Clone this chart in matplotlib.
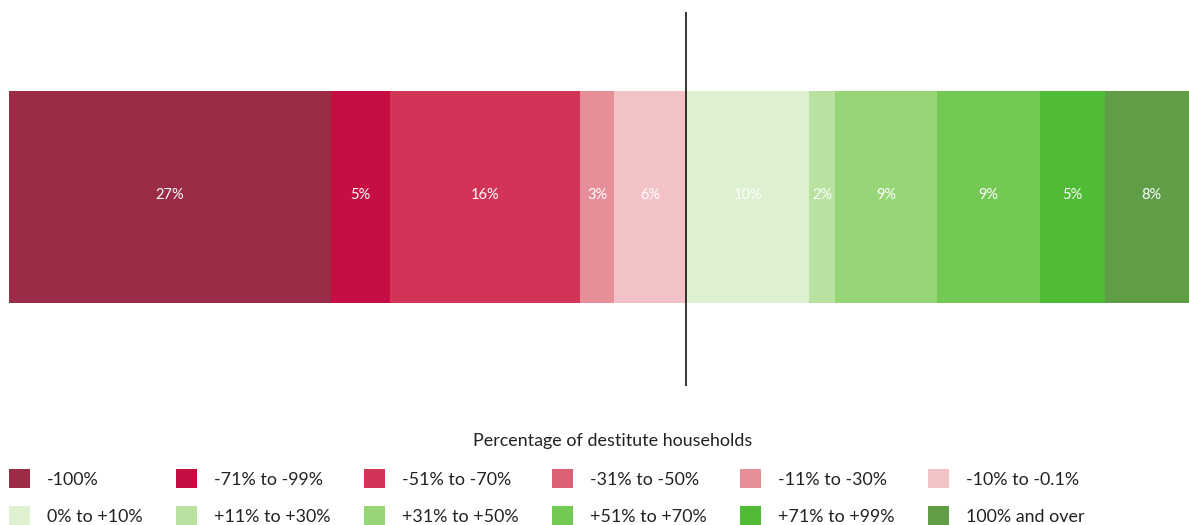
import matplotlib
matplotlib.use("Agg")
import matplotlib.pyplot as plt
from matplotlib.patches import Patch

plt.rcParams['font.family'] = ['Lato', 'DejaVu Sans']

# ---- data ----
neg_labels = ["-100%", "-71% to -99%", "-51% to -70%", "-31% to -50%", "-11% to -30%", "-10% to -0.1%"]
neg_values = [27.06, 4.96, 15.97, 0.0, 2.86, 6.05]
neg_colors = ["#9b2c45", "#c50f43", "#d13457", "#dc6073", "#e78f99", "#f2c2c6"]

pos_labels = ["0% to +10%", "+11% to +30%", "+31% to +50%", "+51% to +70%", "+71% to +99%", "100% and over"]
pos_values = [10.34, 2.18, 8.55, 8.66, 5.46, 7.9]
pos_colors = ["#ddf0cf", "#b9e2a0", "#97d677", "#74c954", "#50bb35", "#5f9e46"]

legend_title = "Percentage of destitute households"

W, H = 1189, 525
fig = plt.figure(figsize=(W / 100, H / 100), dpi=100)
ax = fig.add_axes([9 / W, (H - 386) / H, 1 - 9 / W, 374 / H])

bar_y = 0.505
bar_h = 0.567

# negatives: stacked from left edge toward zero
total_neg = sum(neg_values)
left = -total_neg
for v, c in zip(neg_values, neg_colors):
    if v > 0:
        ax.barh(bar_y, v, left=left, height=bar_h, color=c, edgecolor='none')
        ax.text(left + v / 2, bar_y + 0.005, f"{int(v + 0.5)}%", ha='center', va='center',
                color='white', fontsize=10.5)
    left += v

left = 0.0
for v, c in zip(pos_values, pos_colors):
    if v > 0:
        ax.barh(bar_y, v, left=left, height=bar_h, color=c, edgecolor='none')
        ax.text(left + v / 2, bar_y + 0.005, f"{int(v + 0.5)}%", ha='center', va='center',
                color='white', fontsize=10.5, clip_on=False)
    left += v

ax.axvline(0, color='black', linewidth=1.1)
ax.set_xlim(-total_neg, (W - 686) / 11.9)
ax.set_ylim(0, 1)
ax.axis('off')

# legend: row 1 negatives, row 2 positives (column-major ordering)
handles = []
labels = []
for i in range(6):
    handles.append(Patch(facecolor=neg_colors[i], edgecolor='none'))
    labels.append(neg_labels[i])
    handles.append(Patch(facecolor=pos_colors[i], edgecolor='none'))
    labels.append(pos_labels[i])

fs = 12.9
leg = fig.legend(handles, labels, ncol=6, loc='upper left',
                 bbox_to_anchor=(9 / W, (H - 469) / H), frameon=False,
                 fontsize=fs, borderpad=0, borderaxespad=0,
                 handlelength=1.17, handleheight=1.28, handletextpad=0.95,
                 columnspacing=1.87, labelspacing=1.0, labelcolor='#222222')

fig.text(613 / W, (H - 441) / H, legend_title, ha='center', va='center',
         fontsize=fs, color='#222222')

fig.savefig("out.png", dpi=100)
